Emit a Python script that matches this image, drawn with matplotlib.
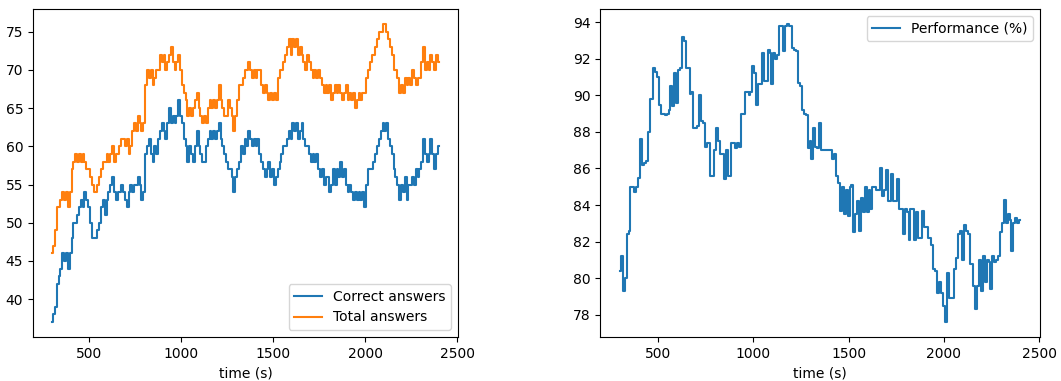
import numpy as np
import matplotlib
matplotlib.use("Agg")
import matplotlib.pyplot as plt

# sampled every 10 s from 300 s to 2400 s
time_s = np.arange(300, 2401, 10)

total_answers = [
    46, 47, 49, 52, 52, 53, 54, 53, 54, 52,
    54, 57, 58, 59, 58, 59, 58, 59, 58, 57,
    57, 56, 55, 54, 54, 55, 56, 57, 58, 58,
    59, 58, 59, 60, 58, 59, 59, 60, 61, 61,
    60, 61, 59, 60, 62, 63, 62, 64, 63, 62,
    63, 68, 70, 69, 70, 68, 69, 70, 70, 72,
    71, 72, 70, 71, 72, 73, 71, 70, 71, 72,
    70, 68, 67, 66, 64, 65, 64, 65, 66, 67,
    65, 64, 63, 64, 63, 65, 66, 65, 66, 65,
    66, 68, 66, 65, 64, 64, 66, 65, 64, 62,
    64, 66, 68, 68, 69, 70, 70, 71, 70, 69,
    70, 69, 70, 70, 68, 67, 68, 67, 66, 67,
    66, 67, 66, 69, 70, 70, 71, 72, 73, 74,
    72, 74, 73, 74, 72, 73, 72, 71, 70, 72,
    71, 70, 69, 70, 69, 70, 69, 68, 67, 68,
    67, 68, 66, 67, 68, 67, 68, 67, 66, 67,
    68, 66, 67, 66, 67, 65, 66, 67, 66, 67,
    67, 69, 70, 71, 72, 72, 73, 74, 75, 75,
    76, 76, 75, 74, 73, 72, 70, 70, 69, 67,
    68, 67, 69, 68, 69, 68, 70, 69, 68, 69,
    69, 71, 73, 70, 71, 70, 72, 71, 70, 72,
    71,
]

correct_answers = [
    37, 38, 39, 42, 43, 44, 46, 45, 46, 44,
    46, 48, 50, 50, 51, 52, 53, 52, 54, 53,
    52, 50, 48, 48, 48, 49, 50, 52, 53, 51,
    53, 54, 55, 56, 54, 53, 54, 54, 55, 54,
    53, 52, 54, 55, 54, 55, 55, 56, 55, 53,
    54, 59, 60, 61, 59, 58, 60, 59, 61, 62,
    63, 62, 61, 63, 65, 63, 64, 63, 64, 66,
    64, 63, 61, 60, 58, 60, 59, 58, 60, 62,
    60, 59, 58, 58, 60, 61, 62, 61, 62, 61,
    62, 63, 61, 60, 59, 58, 57, 57, 56, 54,
    56, 57, 58, 60, 59, 61, 60, 62, 61, 60,
    61, 60, 61, 59, 58, 57, 56, 57, 58, 56,
    57, 55, 56, 57, 58, 59, 60, 60, 61, 62,
    61, 63, 62, 63, 61, 62, 63, 61, 60, 60,
    59, 58, 59, 58, 59, 57, 56, 57, 55, 56,
    56, 54, 55, 57, 55, 57, 56, 58, 56, 57,
    55, 54, 55, 54, 53, 54, 53, 54, 53, 54,
    52, 55, 57, 57, 57, 58, 59, 60, 61, 62,
    63, 62, 63, 61, 60, 59, 57, 56, 55, 53,
    55, 54, 56, 53, 55, 55, 56, 55, 57, 56,
    57, 58, 61, 59, 58, 59, 61, 59, 57, 59,
    60,
]

performance_pct = [
    80.4, 81.2, 79.3, 80.0, 82.4, 82.6, 85.0, 85.0, 84.7, 85.0,
    85.5, 87.6, 86.2, 86.3, 86.4, 88.0, 89.8, 89.8, 91.5, 91.3,
    91.0, 89.5, 89.0, 89.0, 88.9, 89.0, 89.2, 90.5, 89.4, 91.2,
    89.6, 91.4, 91.5, 93.2, 93.0, 91.5, 91.5, 90.1, 90.2, 88.2,
    88.2, 88.3, 90.0, 88.6, 88.5, 87.2, 87.4, 87.4, 85.6, 85.6,
    87.0, 88.2, 87.5, 86.8, 86.8, 85.4, 87.0, 85.6, 85.6, 87.4,
    87.4, 87.1, 87.4, 87.2, 89.0, 89.0, 90.2, 90.2, 90.0, 90.2,
    91.6, 91.2, 89.5, 90.6, 90.6, 92.3, 90.8, 90.8, 92.5, 92.3,
    90.6, 92.3, 92.0, 92.2, 93.8, 93.8, 92.4, 93.8, 93.9, 93.8,
    93.8, 92.6, 92.5, 92.4, 90.7, 90.5, 89.2, 89.0, 88.9, 87.1,
    87.5, 86.5, 88.2, 87.2, 87.1, 88.5, 87.0, 87.0, 87.0, 87.0,
    87.0, 87.0, 86.5, 86.8, 85.6, 85.2, 83.7, 85.0, 83.5, 84.8,
    83.4, 85.0, 85.1, 82.5, 83.5, 84.2, 82.6, 84.4, 83.6, 85.0,
    83.6, 84.8, 83.8, 85.0, 85.0, 84.8, 84.8, 86.0, 84.5, 84.8,
    85.9, 84.2, 84.2, 85.7, 84.2, 84.2, 85.4, 83.8, 83.8, 82.4,
    83.8, 83.6, 82.1, 83.8, 83.8, 82.1, 83.6, 82.2, 82.2, 83.7,
    82.8, 82.8, 82.2, 82.2, 81.8, 80.5, 80.4, 79.2, 79.8, 79.2,
    78.5, 77.6, 80.3, 78.9, 78.9, 78.9, 80.5, 81.1, 82.4, 82.6,
    81.0, 82.9, 82.6, 82.4, 80.8, 80.8, 79.6, 78.3, 79.6, 81.0,
    79.3, 81.2, 79.8, 81.0, 80.9, 79.4, 81.2, 80.9, 81.0, 81.2,
    82.5, 83.0, 84.3, 83.0, 83.5, 83.2, 81.5, 83.0, 83.3, 83.0,
    83.2,
]

fig = plt.figure(figsize=(10.61, 3.81), dpi=100)
ax1 = fig.add_axes([0.031, 0.1155, 0.4007, 0.8605])
ax2 = fig.add_axes([0.5655, 0.1155, 0.4147, 0.8605])

ax1.plot(time_s, correct_answers, drawstyle="steps-mid", label="Correct answers")
ax1.plot(time_s, total_answers, drawstyle="steps-mid", label="Total answers")
ax1.set_xlabel("time (s)")
ax1.set_xticks([500, 1000, 1500, 2000, 2500])
ax1.legend(loc="lower right")

ax2.plot(time_s, performance_pct, drawstyle="steps-mid", label="Performance (%)")
ax2.set_xlabel("time (s)")
ax2.set_xticks([500, 1000, 1500, 2000, 2500])
ax2.legend(loc="upper right")

fig.savefig("out.png", dpi=100)
